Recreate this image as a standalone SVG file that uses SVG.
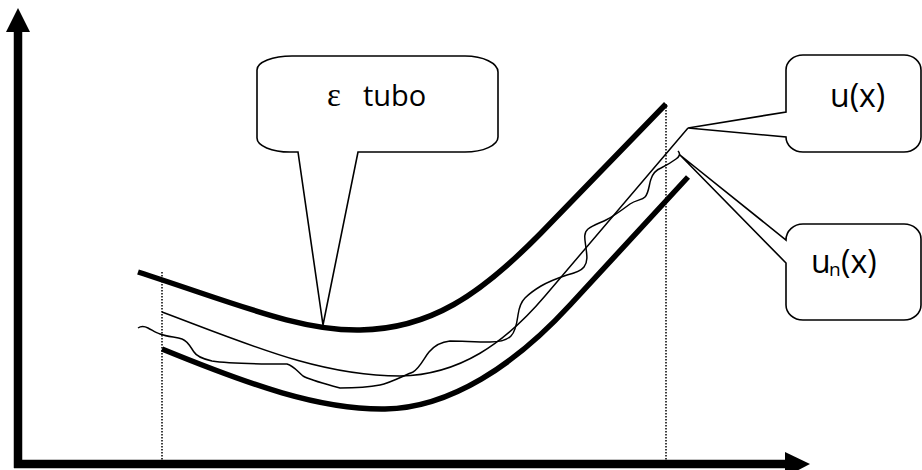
<svg xmlns="http://www.w3.org/2000/svg" width="922" height="470" viewBox="0 0 922 470">
  <style>
    .axis { stroke: #000; stroke-width: 8.5; fill: none; }
    .thick { stroke: #000; stroke-width: 5.5; fill: none; stroke-linecap: butt; }
    .thin { stroke: #000; stroke-width: 1.5; fill: none; stroke-linejoin: round; }
    .dot { stroke: #000; stroke-width: 1.5; stroke-dasharray: 1.5 1.5; fill: none; }
    .callout { fill: #fff; stroke: #000; stroke-width: 1.6; stroke-linejoin: miter; }
    .lbl { font-family: "Open Sans", "DejaVu Sans", sans-serif; fill: #000; }
    .greek { font-family: "Liberation Serif", "DejaVu Serif", serif; fill: #000; }
  </style>

  <g id="axes">
    <line class="axis" x1="18" y1="30" x2="18" y2="468"/>
    <polygon points="18,8 6,32 30,32" fill="#000"/>
    <line class="axis" x1="14" y1="464" x2="788" y2="464"/>
    <polygon points="810,464 785,452 785,477" fill="#000"/>
  </g>

  <g id="bounds">
    <line class="dot" x1="162" y1="272" x2="162" y2="460"/>
    <line class="dot" x1="666" y1="104" x2="666" y2="460"/>
  </g>

  <g id="tube-upper">
    <path class="thick" d="M138,272 C240,305 300,331 360,330 C430,329 480,295 540,234 L666,104"/>
  </g>
  <g id="tube-lower">
    <path class="thick" d="M162,349 C250,385 320,410 385,409 C450,408 515,365 570,305 L688,177"/>
  </g>
  <g id="curve-u">
    <path class="thin" d="M162,312 C250,345 320,376 400,376 C460,375 505,343 545,296 L688,128"/>
  </g>
  <g id="curve-un">
    <path class="thin" d="M138,328 C141,326 144,326 148,328 C152,330 156,333 160,334 C168,337 176,337 182,339 C188,341 191,348 194,352 C197,357 203,359 212,361 C230,364 260,364 287,364 C294,366 298,372 303,376 C310,380 322,383 340,388 C355,388 370,387 380,385 C390,383 405,375 413,372 C420,368 424,358 429,352 C434,346 440,342 450,341 C462,341 475,342 490,342 C500,342 507,340 511,336 C516,331 517,322 518,315 C519,308 521,302 525,298 C530,293 536,289 541,286 C548,282 558,278 567,275 C575,273 581,271 584,267 C588,262 587,255 586,248 C585,240 583,233 588,229 C593,225 600,223 606,220 C614,216 622,210 630,204 C636,200 642,200 645,197 C649,193 649,184 651,179 C653,173 656,170 661,168 C667,165 672,162 676,159 C679,157 681,154 678,151"/>
  </g>

  <g id="callout-tubo">
    <path class="callout" d="M292,56 H465 A33 16 0 0 1 498,72 V137 A33 15 0 0 1 465,152 H358 L323,325 L298,152 H290 A33 14 0 0 1 257,138 V70 A35 14 0 0 1 292,56 Z"/>
    <text class="greek" x="327" y="106" font-size="33">ε</text>
    <text class="lbl" x="363" y="106" font-size="29">tubo</text>
  </g>

  <g id="callout-u">
    <path class="callout" d="M803,55 H904 A17 15 0 0 1 921,70 V137 A17 15 0 0 1 904,152 H803 A17 15 0 0 1 786,137 L688,128 L786,112 V70 A17 15 0 0 1 803,55 Z"/>
    <text class="lbl" x="830" y="107" font-size="32">u(x)</text>
  </g>

  <g id="callout-un">
    <path class="callout" d="M803,224 H904 A17 15 0 0 1 921,239 V305 A17 15 0 0 1 904,320 H803 A17 15 0 0 1 786,305 V263 L680,155 L786,240 A17 16 0 0 1 803,224 Z"/>
    <text class="lbl" x="811" y="273" font-size="32">u</text>
    <text class="lbl" x="829" y="276" font-size="19">n</text>
    <text class="lbl" x="841" y="273" font-size="32">(x)</text>
  </g>
</svg>
